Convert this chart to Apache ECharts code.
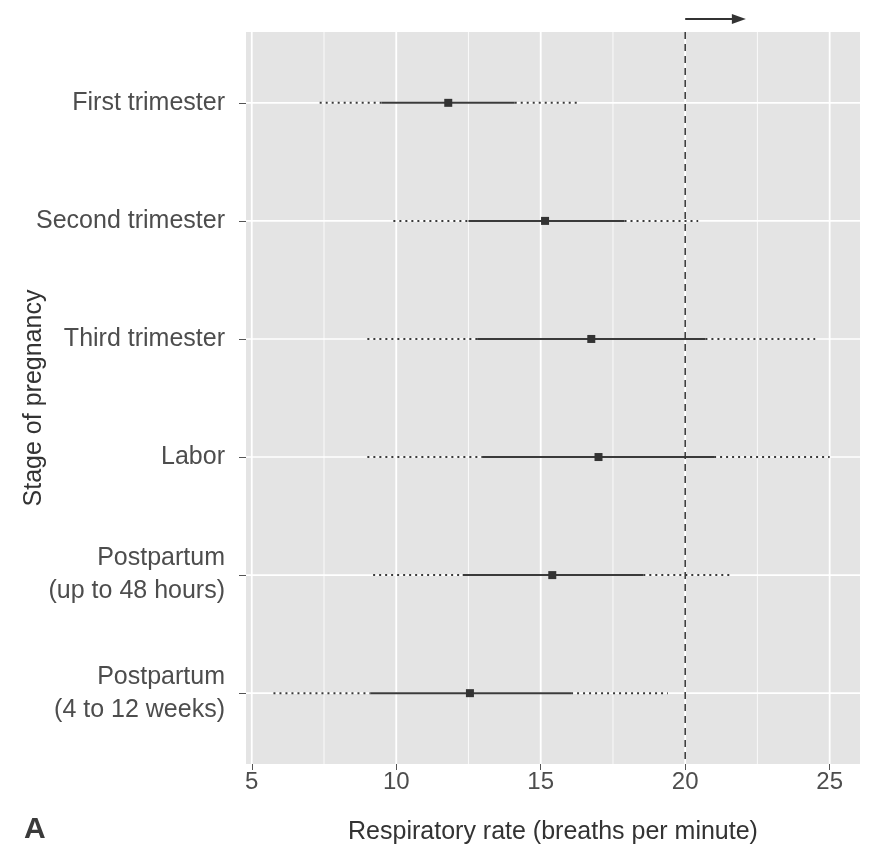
<!DOCTYPE html>
<html>
<head>
<meta charset="utf-8">
<script src="https://cdn.jsdelivr.net/npm/echarts@6/dist/echarts.min.js"></script>
<style>
  html, body { margin: 0; background: #fff; }
  #chart { width: 877px; height: 852px; }
</style>
</head>
<body>
<div id="chart"></div>
<script>
// stages of pregnancy, top to bottom
const stages = [
  "First trimester",
  "Second trimester",
  "Third trimester",
  "Labor",
  "Postpartum\n(up to 48 hours)",
  "Postpartum\n(4 to 12 weeks)"
];
// centiles (breaths per minute)
const lowTail = [7.35, 9.9, 9.0, 9.0, 9.2, 5.75];
const lowBox = [9.5, 12.5, 12.8, 13.0, 12.3, 9.1];
const median = [11.8, 15.15, 16.75, 17.0, 15.4, 12.55];
const highBox = [14.1, 17.9, 20.7, 21.0, 18.55, 16.05];
const highTail = [16.3, 20.45, 24.5, 25.0, 21.6, 19.4];
// axis ticks
const xTicks = [5, 10, 15, 20, 25];
const xMinor = [7.5, 12.5, 17.5, 22.5];
const rowTicks = [1, 2, 3, 4, 5, 6];
// reference line and arrow
const refLine = 20;
const arrowEnd = 22.1;

const chart = echarts.init(document.getElementById("chart"));
const font = "Liberation Sans, Arial, sans-serif";
const ink = "#333333";

// vertical grid lines through the whole panel
function vGrid(values, width) {
  return {
    type: "custom",
    silent: true,
    z: 1,
    data: values.map(v => [v]),
    encode: { x: 0 },
    renderItem(params, api) {
      const cs = params.coordSys;
      const x = api.coord([api.value(0), 1])[0];
      return {
        type: "line",
        shape: { x1: x, y1: cs.y, x2: x, y2: cs.y + cs.height },
        style: { stroke: "#ffffff", lineWidth: width }
      };
    }
  };
}

// horizontal grid lines at each stage
const hGrid = {
  type: "custom",
  silent: true,
  z: 1,
  data: rowTicks.map(v => [v]),
  encode: { y: 0 },
  renderItem(params, api) {
    const cs = params.coordSys;
    const y = api.coord([10, api.value(0)])[1];
    return {
      type: "line",
      shape: { x1: cs.x, y1: y, x2: cs.x + cs.width, y2: y },
      style: { stroke: "#ffffff", lineWidth: 1.6 }
    };
  }
};

const rows = stages.map((s, i) => [i + 1, lowTail[i], lowBox[i], median[i], highBox[i], highTail[i]]);

const ranges = {
  type: "custom",
  z: 3,
  data: rows,
  encode: { y: 0, x: [1, 2, 3, 4, 5] },
  renderItem(params, api) {
    const y = api.value(0);
    const p = k => api.coord([api.value(k), y]);
    const a = p(1), b = p(2), m = p(3), c = p(4), d = p(5);
    const dotted = { stroke: "#3a3a3a", lineWidth: 2, lineDash: [2, 4] };
    return {
      type: "group",
      children: [
        { type: "line", shape: { x1: a[0], y1: a[1], x2: b[0], y2: b[1] }, style: dotted },
        { type: "line", shape: { x1: b[0], y1: b[1], x2: c[0], y2: c[1] }, style: { stroke: "#3a3a3a", lineWidth: 2 } },
        { type: "line", shape: { x1: c[0], y1: c[1], x2: d[0], y2: d[1] }, style: dotted },
        { type: "rect", shape: { x: m[0] - 4, y: m[1] - 4, width: 8, height: 8 }, style: { fill: ink } }
      ]
    };
  }
};

// dashed reference line and the arrow above the panel
const reference = {
  type: "custom",
  z: 4,
  silent: true,
  clip: false,
  data: [[refLine, arrowEnd]],
  encode: { x: [0, 1] },
  renderItem(params, api) {
    const cs = params.coordSys;
    const x0 = api.coord([api.value(0), 1])[0];
    const x1 = api.coord([api.value(1), 1])[0];
    const ay = cs.y - 13;
    return {
      type: "group",
      children: [
        { type: "line", shape: { x1: x0, y1: cs.y, x2: x0, y2: cs.y + cs.height }, style: { stroke: ink, lineWidth: 1.5, lineDash: [7, 5] } },
        { type: "line", shape: { x1: x0, y1: ay, x2: x1 - 10, y2: ay }, style: { stroke: ink, lineWidth: 2 } },
        { type: "polygon", shape: { points: [[x1, ay], [x1 - 14, ay - 5], [x1 - 14, ay + 5]] }, style: { fill: ink } }
      ]
    };
  }
};

chart.setOption({
  animation: false,
  grid: {
    left: 246,
    right: 17,
    top: 32,
    bottom: 88,
    outerBoundsMode: "none",
    show: true,
    backgroundColor: "#e4e4e4",
    borderWidth: 0
  },
  xAxis: {
    type: "value",
    min: 4.8,
    max: 26.05,
    name: "Respiratory rate (breaths per minute)",
    nameLocation: "middle",
    nameMoveOverlap: false,
    nameGap: 56,
    nameTextStyle: { fontFamily: font, fontSize: 25, color: "#333" },
    axisLine: { show: false },
    axisTick: { show: true, customValues: xTicks, length: 6, lineStyle: { color: "#555" } },
    axisLabel: { customValues: xTicks, fontFamily: font, fontSize: 24, color: "#4d4d4d", margin: 6 },
    splitLine: { show: false }
  },
  yAxis: {
    type: "value",
    inverse: true,
    min: 0.4,
    max: 6.6,
    name: "Stage of pregnancy",
    nameLocation: "middle",
    nameMoveOverlap: false,
    nameGap: 199,
    nameTextStyle: { fontFamily: font, fontSize: 25, color: "#333" },
    axisLine: { show: false },
    axisTick: { show: true, customValues: rowTicks, length: 7, lineStyle: { color: "#555" } },
    axisLabel: {
      customValues: rowTicks,
      formatter: v => stages[Math.round(v) - 1] || "",
      fontFamily: font,
      fontSize: 25,
      lineHeight: 33,
      color: "#4d4d4d",
      margin: 21,
      align: "right"
    },
    splitLine: { show: false }
  },
  graphic: [
    {
      type: "text",
      left: 24,
      top: 815,
      style: { text: "A", font: "bold 30px " + font, fill: "#3a3a3a" }
    }
  ],
  series: [vGrid(xTicks, 1.8), vGrid(xMinor, 0.8), hGrid, ranges, reference]
});
</script>
</body>
</html>
